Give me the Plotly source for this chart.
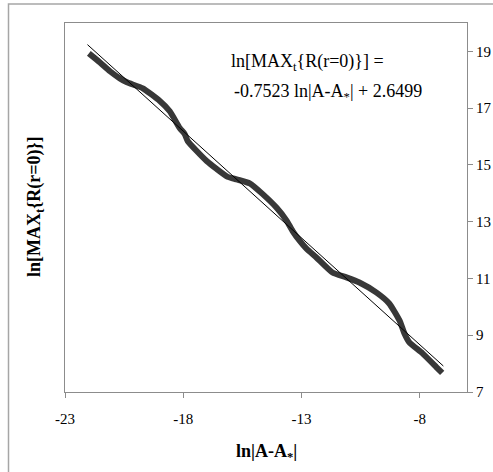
import plotly.graph_objects as go

# Data
ln_dA = [-21.99, -21.52, -21.10, -20.68, -20.38, -19.71, -18.99, -18.57, -18.15, -17.94,
         -17.81, -17.43, -17.01, -16.59, -16.12, -15.74, -15.19, -14.65, -14.05, -13.63,
         -13.38, -13.08, -12.79, -12.37, -11.69, -11.10, -10.55, -9.84, -9.29, -8.86,
         -8.65, -8.44, -7.89, -7.30, -7.05]
ln_max = [18.93, 18.61, 18.30, 18.05, 17.91, 17.70, 17.25, 16.89, 16.30, 16.09,
          15.84, 15.49, 15.14, 14.86, 14.58, 14.49, 14.35, 13.98, 13.49, 13.04,
          12.68, 12.33, 12.05, 11.74, 11.21, 11.04, 10.86, 10.51, 10.12, 9.53,
          9.07, 8.75, 8.37, 7.88, 7.67]
fit_slope = -0.7523
fit_intercept = 2.6499
fit_x = [-22.05, -7.0]
fit_y = [fit_slope * v + fit_intercept for v in fit_x]

x_ticks = [-23, -18, -13, -8]
y_ticks = [7, 9, 11, 13, 15, 17, 19]

W, H = 493, 472
L, R, T, B = 65, 26, 23, 80
pw, ph = W - L - R, H - T - B

def px(xp):
    return (xp - L) / pw

def py(yp):
    return (H - B - yp) / ph

serif = "Liberation Serif"

fig = go.Figure()
fig.add_trace(go.Scatter(x=ln_dA, y=ln_max, mode="lines",
                         line=dict(color="#383838", width=6, shape="spline", smoothing=0.5),
                         showlegend=False))
fig.add_trace(go.Scatter(x=fit_x, y=fit_y, mode="lines",
                         line=dict(color="black", width=1), showlegend=False))

fig.update_layout(
    width=W, height=H,
    margin=dict(l=L, r=R, t=T, b=B, autoexpand=False),
    paper_bgcolor="white", plot_bgcolor="white",
    font=dict(family=serif, color="black", size=14),
    xaxis=dict(range=[-23, -6], tickvals=x_ticks, ticktext=[str(v) for v in x_ticks],
               showgrid=False, zeroline=False, showline=True, linecolor="#8c8c8c",
               linewidth=1, mirror=True, ticks="outside", ticklen=5, tickcolor="#8c8c8c",
               automargin=False, ticklabelstandoff=8,
               tickfont=dict(family=serif, size=15, color="black")),
    yaxis=dict(range=[7, 20], tickvals=y_ticks, ticktext=[str(v) for v in y_ticks],
               side="right", showgrid=False, zeroline=False, showline=True,
               linecolor="#8c8c8c", linewidth=1, mirror=True, ticks="outside",
               ticklen=5, tickcolor="#8c8c8c", automargin=False,
               tickfont=dict(family=serif, size=15, color="black")),
)

# outer chart frame
fig.add_shape(type="rect", xref="paper", yref="paper",
              x0=px(8.5), x1=px(520), y0=py(4), y1=py(520),
              line=dict(color="#a6a6a6", width=1.5), fillcolor="rgba(0,0,0,0)", layer="below")

fig.add_annotation(xref="paper", yref="paper", x=px(266), y=py(452),
                   text="<b>ln|A-A<sub>*</sub>|</b>", showarrow=False,
                   font=dict(family=serif, size=18), xanchor="center", yanchor="middle")
fig.add_annotation(xref="paper", yref="paper", x=px(35), y=py(207),
                   text="<b>ln[MAX<sub>t</sub>{R(r=0)}]</b>", showarrow=False, textangle=-90,
                   font=dict(family=serif, size=18), xanchor="center", yanchor="middle")
fig.add_annotation(xref="paper", yref="paper", x=px(229), y=py(62),
                   text="ln[MAX<sub>t</sub>{R(r=0)}] =", showarrow=False,
                   font=dict(family=serif, size=18), xanchor="left", yanchor="middle")
fig.add_annotation(xref="paper", yref="paper", x=px(232), y=py(92),
                   text="-0.7523 ln|A-A<sub>*</sub>| + 2.6499", showarrow=False,
                   font=dict(family=serif, size=18), xanchor="left", yanchor="middle")

fig.write_html("out.html")
